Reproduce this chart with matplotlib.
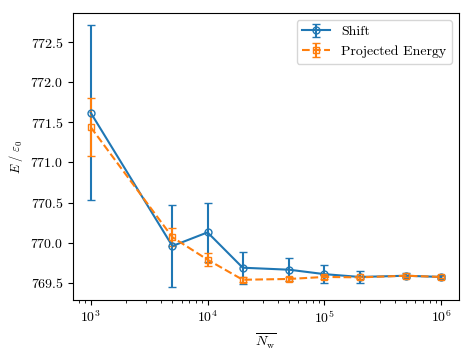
import numpy as np
import matplotlib
matplotlib.use("Agg")
import matplotlib.pyplot as plt

plt.rcParams['font.family'] = 'serif'
plt.rcParams['font.serif'] = ['cmr10']
plt.rcParams['mathtext.fontset'] = 'cm'
plt.rcParams['axes.formatter.use_mathtext'] = True

# walker numbers
n_walkers = [1e3, 5e3, 1e4, 2e4, 5e4, 1e5, 2e5, 5e5, 1e6]

# shift estimator
shift = [771.62, 769.96, 770.13, 769.69, 769.665, 769.61, 769.575, 769.59, 769.575]
shift_err = [1.09, 0.51, 0.37, 0.20, 0.145, 0.11, 0.07, 0.03, 0.02]

# projected energy estimator
proj = [771.44, 770.07, 769.79, 769.54, 769.55, 769.575, 769.57, 769.59, 769.575]
proj_err = [0.365, 0.11, 0.08, 0.03, 0.02, 0.02, 0.02, 0.015, 0.015]

fig, ax = plt.subplots(figsize=(4.72, 3.54), dpi=100)
fig.subplots_adjust(left=0.155, right=0.972, top=0.963, bottom=0.153)
ax.errorbar(n_walkers, shift, yerr=shift_err, marker='o', fillstyle='none',
            markersize=5, capsize=3, label='Shift')
ax.errorbar(n_walkers, proj, yerr=proj_err, marker='s', fillstyle='none',
            markersize=5, linestyle='--', capsize=3, label='Projected Energy')
ax.set_xscale('log')
ax.set_ylim(769.29, 772.86)
ax.set_xlabel(r'$\overline{N_\mathrm{w}}$')
ax.set_ylabel(r'$E\ /\ \varepsilon_0$', fontsize=9)
ax.legend(loc='upper right')
fig.savefig('out.png')
